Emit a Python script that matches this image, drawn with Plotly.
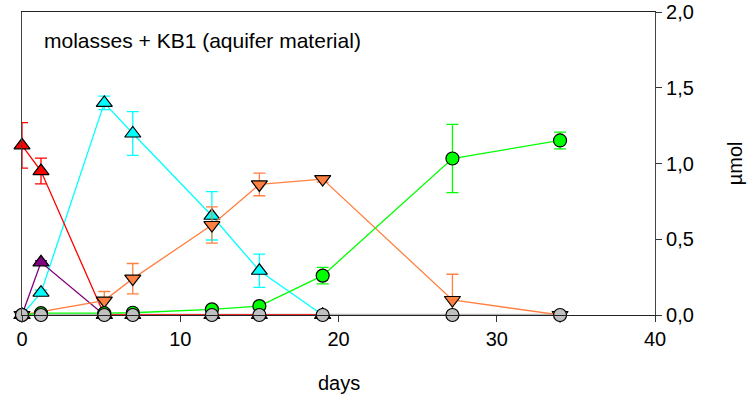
import plotly.graph_objects as go

# ---- data ----
days_all = [0, 1.2, 5.2, 7, 12, 15, 19, 27.2, 34]

red_x = [0, 1.2, 5.2, 7, 12, 15, 19]
red_y = [1.12, 0.95, 0.0, 0.0, 0.0, 0.0, 0.0]
red_err = [0.15, 0.085, 0, 0, 0, 0, 0]

purple_x = [0, 1.2, 5.2]
purple_y = [0.0, 0.348, 0.0]
purple_err = [0, 0.01, 0]

cyan_x = [0, 1.2, 5.2, 7, 12, 15, 19]
cyan_y = [0.0, 0.147, 1.40, 1.198, 0.655, 0.292, 0.0]
cyan_err = [0, 0.018, 0.045, 0.145, 0.16, 0.11, 0]

orange_x = [0, 5.2, 7, 12, 15, 19, 27.2, 34]
orange_y = [0.0, 0.095, 0.24, 0.594, 0.862, 0.897, 0.099, 0.0]
orange_err = [0, 0.06, 0.1, 0.12, 0.075, 0.02, 0.17, 0]

green_x = [0, 1.2, 5.2, 7, 12, 15, 19, 27.2, 34]
green_y = [0.0, 0.012, 0.012, 0.015, 0.037, 0.059, 0.26, 1.033, 1.152]
green_err = [0, 0, 0, 0, 0, 0, 0.055, 0.225, 0.055]

grey_x = days_all
grey_y = [0, 0, 0, 0, 0, 0, 0, 0, 0]

x_ticks = [0, 10, 20, 30, 40]
y_ticks = [0.0, 0.5, 1.0, 1.5, 2.0]

FONT = "Liberation Sans, Arial, sans-serif"

fig = go.Figure()

# grey line underneath
fig.add_trace(go.Scatter(x=grey_x, y=grey_y, mode="lines",
                         line=dict(color="#B8B8B8", width=2.5),
                         cliponaxis=False, showlegend=False))


def series(x, y, err, color, symbol, size=12):
    fig.add_trace(go.Scatter(
        x=x, y=y, mode="lines+markers",
        line=dict(color=color, width=1.3),
        marker=dict(symbol=symbol, size=size, color=color,
                    line=dict(color="black", width=1.2)),
        error_y=dict(type="data", array=err, symmetric=True, visible=True,
                     color=color, thickness=1.3, width=6),
        cliponaxis=False, showlegend=False))


series(cyan_x, cyan_y, cyan_err, "#00FFFF", "triangle-up", 14)
series(purple_x, purple_y, purple_err, "#800080", "triangle-up", 14)
series(red_x, red_y, red_err, "#FF0000", "triangle-up", 14)
series(orange_x, orange_y, orange_err, "#FF8040", "triangle-down", 14)
series(green_x, green_y, green_err, "#00FF00", "circle", 13)

# grey markers on top
fig.add_trace(go.Scatter(x=grey_x, y=grey_y, mode="markers",
                         marker=dict(symbol="circle", size=13, color="#C0C0C0",
                                     line=dict(color="black", width=1.2)),
                         cliponaxis=False, showlegend=False))

fig.add_annotation(text="molasses + KB1 (aquifer material)",
                   xref="paper", yref="paper", x=0.031, y=0.905,
                   xanchor="left", yanchor="middle", showarrow=False,
                   font=dict(family=FONT, size=21, color="black"))
fig.add_annotation(text="days", xref="paper", yref="paper",
                   x=0.5, y=-0.225, xanchor="center", yanchor="middle",
                   showarrow=False, font=dict(family=FONT, size=20, color="black"))
fig.add_annotation(text="µmol", xref="paper", yref="paper",
                   x=1.126, y=0.5, xanchor="center", yanchor="middle",
                   textangle=-90, showarrow=False,
                   font=dict(family=FONT, size=20, color="black"))

fig.update_layout(
    width=753, height=397,
    margin=dict(l=22, r=98, t=12, b=82, autoexpand=False),
    paper_bgcolor="white", plot_bgcolor="white",
    separators=",.",
    font=dict(family=FONT, size=20, color="black"),
    xaxis=dict(range=[0, 40], tickvals=x_ticks, ticks="outside", ticklen=6,
               tickcolor="#333", showline=True, linecolor="#222", linewidth=1.2,
               mirror=True, showgrid=False, zeroline=False,
               tickfont=dict(size=20)),
    yaxis=dict(range=[0, 2], tickvals=y_ticks, tickformat=".1f", side="right",
               ticks="outside", ticklen=6, tickcolor="#333", showline=True,
               linecolor="#444", linewidth=1.2, mirror=True, showgrid=False,
               zeroline=False, tickfont=dict(size=20)),
)

fig.write_html("out.html")
